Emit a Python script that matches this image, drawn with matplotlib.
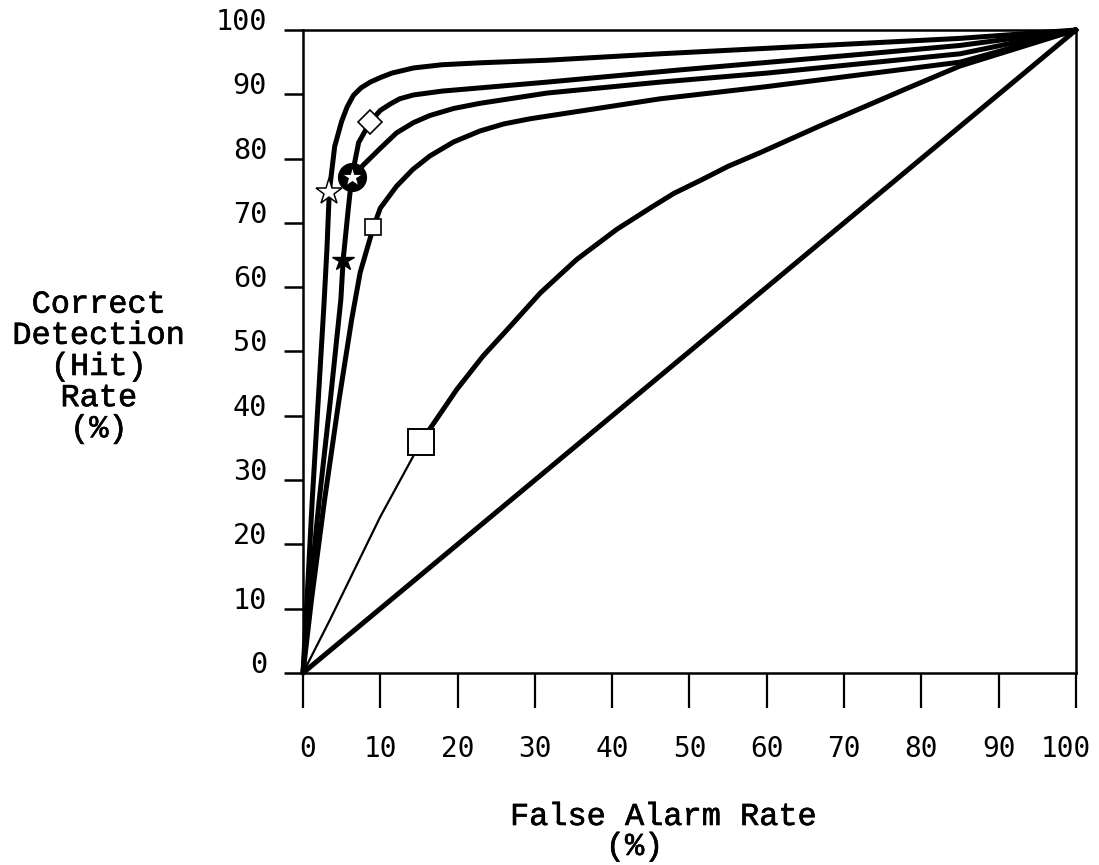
import matplotlib
matplotlib.use('Agg')
import matplotlib.pyplot as plt
import matplotlib.patheffects as pe
from matplotlib.transforms import ScaledTranslation

plt.rcParams['font.family'] = ['Liberation Mono', 'DejaVu Sans Mono']

# ROC curves (false alarm %, hit %)
a_x = [0, 0.5, 1.2, 2.0, 2.7, 3.1, 3.4, 4.1, 5.0, 5.7, 6.5, 7.5, 8.7, 10.0, 11.5, 14.3, 18.0, 22.9, 31.6, 46.2, 72, 85, 100]
a_y = [0, 11, 27, 43, 57, 66, 74.8, 81.9, 85.8, 88.0, 89.8, 91.0, 91.9, 92.6, 93.3, 94.1, 94.6, 94.9, 95.3, 96.3, 97.9, 98.7, 100]

# lower part shared by curves b and c, up to the circled star
bc_x = [0, 0.8, 2.1, 3.5, 4.9, 5.2, 5.8, 6.3]
bc_y = [0, 11.4, 26.9, 42, 58.1, 64.3, 71.5, 77.1]

b_x = [6.3, 7.2, 8.7, 10.0, 11.3, 12.5, 14.3, 18.0, 22.9, 31.6, 48.8, 72, 85, 100]
b_y = [77.1, 82.5, 85.7, 87.5, 88.5, 89.3, 89.9, 90.5, 91.0, 91.9, 93.8, 96.2, 97.6, 100]

c_x = [6.3, 7.8, 10.0, 12.1, 14.3, 16.4, 19.5, 22.9, 31.6, 46.2, 60, 85, 100]
c_y = [77.1, 79.0, 81.6, 84.0, 85.6, 86.7, 87.8, 88.6, 90.2, 91.9, 93.3, 96.3, 100]

d_x = [0, 1.1, 2.8, 4.6, 6.3, 7.4, 9.1, 10.0, 12.1, 14.2, 16.4, 19.5, 22.9, 26.0, 29.4, 46.2, 60, 85, 100]
d_y = [0, 11.4, 27, 42, 55, 62.3, 69.3, 72.3, 75.7, 78.3, 80.4, 82.6, 84.3, 85.4, 86.2, 89.3, 91.2, 95.0, 100]

e_low_x = [0, 3.5, 10.0, 15.3]
e_low_y = [0, 8.3, 24.3, 36.0]
e_x = [15.3, 19.9, 23.3, 26.8, 30.7, 35.4, 40.6, 45.3, 48.0, 51.4, 55.0, 59.1, 66.9, 78.5, 85, 100]
e_y = [36.0, 44.1, 49.3, 53.9, 59.1, 64.3, 69.0, 72.6, 74.6, 76.6, 78.8, 80.9, 85.1, 91.1, 94.4, 100]

chance_x = [0, 100]
chance_y = [0, 100]

# marked operating points
white_star = (3.4, 74.8)
black_star = (5.2, 64.3)
circle_star = (6.3, 77.1)
diamond = (8.7, 85.7)
small_square = (9.1, 69.3)
big_square = (15.3, 36.0)

ticks = [0, 10, 20, 30, 40, 50, 60, 70, 80, 90, 100]

fig = plt.figure(figsize=(10.99, 8.65), dpi=100)
ax = fig.add_axes([0.2757, 0.2220, 0.7033, 0.7433])

lw = 3.6
for xs, ys in [(a_x, a_y), (bc_x, bc_y), (b_x, b_y), (c_x, c_y), (d_x, d_y), (e_x, e_y), (chance_x, chance_y)]:
    ax.plot(xs, ys, color='black', lw=lw, solid_capstyle='round', solid_joinstyle='round', clip_on=False)
ax.plot(e_low_x, e_low_y, color='black', lw=1.6, clip_on=False)

mk = dict(linestyle='none', clip_on=False, zorder=5)
ax.plot(*white_star, marker='*', ms=20, mfc='white', mec='black', mew=1.1, **mk)
ax.plot(*black_star, marker='*', ms=16, mfc='black', mec='black', **mk)
ax.plot(*circle_star, marker='o', ms=20, mfc='black', mec='black', **mk)
ax.plot(*circle_star, marker='*', ms=15, mfc='white', mec='black', mew=0.6, zorder=6, linestyle='none', clip_on=False)
ax.plot(*diamond, marker='D', ms=12, mfc='white', mec='black', mew=1.2, **mk)
ax.plot(*small_square, marker='s', ms=12, mfc='white', mec='black', mew=1.2, **mk)
ax.plot(*big_square, marker='s', ms=19, mfc='white', mec='black', mew=1.4, **mk)

ax.set_xlim(0, 100)
ax.set_ylim(0, 100)
ax.set_xticks(ticks)
ax.set_yticks(ticks)
ax.set_xticklabels([str(t) for t in ticks], fontsize=20, family='DejaVu Sans Mono')
ax.set_yticklabels([str(t) for t in ticks], fontsize=20.5, family='DejaVu Sans Mono', va='baseline')
ax.tick_params(axis='x', direction='out', length=25, width=1.6, pad=20)
ax.tick_params(axis='y', direction='out', length=14, width=1.8, pad=12)
for s in ax.spines.values():
    s.set_linewidth(1.8)

# nudge the first and last x labels like the typed original
xl = ax.get_xticklabels()
xl[0].set_transform(xl[0].get_transform() + ScaledTranslation(0.05, 0, fig.dpi_scale_trans))
xl[-1].set_transform(xl[-1].get_transform() + ScaledTranslation(-0.10, 0, fig.dpi_scale_trans))

# typewriter ink: regular weight thickened a little
ink = [pe.withStroke(linewidth=0.45, foreground='black')]
fig.text(99 / 1099, 1 - 367 / 865, 'Correct\nDetection\n(Hit)\nRate\n(%)',
         ha='center', va='center', fontsize=23, linespacing=1.05, path_effects=ink)
fig.text(510 / 1099, 1 - 832 / 865, 'False Alarm Rate\n     (%)',
         ha='left', va='center', fontsize=23, linespacing=1.0, path_effects=ink)

fig.savefig('out.png', dpi=100)
